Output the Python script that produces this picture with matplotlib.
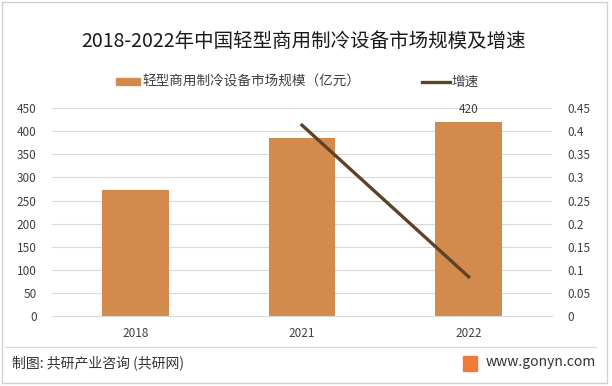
import matplotlib
matplotlib.use('Agg')
import matplotlib.pyplot as plt
from matplotlib.patches import Rectangle

plt.rcParams['font.family'] = ['Noto Sans CJK SC', 'DejaVu Sans']

years = ['2018', '2021', '2022']
scale = [272, 386, 420]          # 亿元
growth = [None, 0.413, 0.085]    # 增速
bar_labels = ['', '', '420']

bar_color = '#D38B4D'
line_color = '#5E4328'
grid_color = '#D9D9D9'
text_color = '#404040'

fig = plt.figure(figsize=(6.12, 3.86), dpi=100)

# frame around the figure
fig.patches.append(Rectangle((0.004, 0.008), 0.988, 0.988, transform=fig.transFigure,
                             fill=False, edgecolor='#D0D0D0', linewidth=1))

ax = fig.add_axes([0.085, 0.181, 0.817, 0.539])
x = list(range(len(years)))
bars = ax.bar(x, scale, width=0.4, color=bar_color, zorder=2)
ax.set_xlim(-0.5, len(years) - 0.5)
ax.set_ylim(0, 450)
ax.set_yticks(range(0, 451, 50))
ax.set_xticks(x)
ax.set_xticklabels(years)
ax.grid(axis='y', color=grid_color, linewidth=0.8, zorder=0)
for s in ['top', 'right', 'left']:
    ax.spines[s].set_visible(False)
ax.spines['bottom'].set_color(grid_color)
ax.tick_params(length=0, labelsize=8.5, colors=text_color, pad=8)
ax.tick_params(axis='y', pad=11)
for b, lab in zip(bars, bar_labels):
    if lab:
        ax.text(b.get_x() + b.get_width() / 2, b.get_height() + 12, lab,
                ha='center', va='bottom', fontsize=8.5, color=text_color)

ax2 = ax.twinx()
gx = [i for i, g in zip(x, growth) if g is not None]
gy = [g for g in growth if g is not None]
ax2.plot(gx, gy, color=line_color, linewidth=2.4, zorder=3)
ax2.set_ylim(0, 0.45)
ax2.set_yticks([i * 0.05 for i in range(10)])
ax2.set_yticklabels(['0', '0.05', '0.1', '0.15', '0.2', '0.25', '0.3', '0.35', '0.4', '0.45'])
for s in ax2.spines.values():
    s.set_visible(False)
ax2.tick_params(length=0, labelsize=8.5, colors=text_color, pad=11)

# title
fig.text(303.5 / 612, 1 - 41 / 386, '2018-2022年中国轻型商用制冷设备市场规模及增速',
         ha='center', va='center', fontsize=14, color='#1a1a1a')

# legend
fig.patches.append(Rectangle((116 / 612, 1 - 85 / 386), 24 / 612, 7 / 386,
                             transform=fig.transFigure, color=bar_color))
fig.text(142 / 612, 1 - 81.5 / 386, '轻型商用制冷设备市场规模（亿元）', va='center',
         fontsize=9.8, color=text_color)
fig.lines.append(plt.Line2D([422 / 612, 450 / 612], [1 - 81.5 / 386, 1 - 81.5 / 386],
                            transform=fig.transFigure, color=line_color, linewidth=2.4))
fig.text(451 / 612, 1 - 81.5 / 386, '增速', va='center', fontsize=9.8, color=text_color)

# footer
fig.lines.append(plt.Line2D([5 / 612, 596 / 612], [1 - 347 / 386, 1 - 347 / 386],
                            transform=fig.transFigure, color='#D8D8D8', linewidth=0.8))
fig.text(12 / 612, 1 - 363 / 386, '制图: 共研产业咨询 (共研网)', va='center',
         fontsize=10, color='#333333')
fig.patches.append(Rectangle((463 / 612, 1 - 371 / 386), 14 / 612, 15 / 386,
                             transform=fig.transFigure, color='#F07A3A'))
fig.text(486 / 612, 1 - 362 / 386, 'www.gonyn.com', va='center',
         fontsize=10, color='#333333')

fig.savefig('out.png', dpi=100)
